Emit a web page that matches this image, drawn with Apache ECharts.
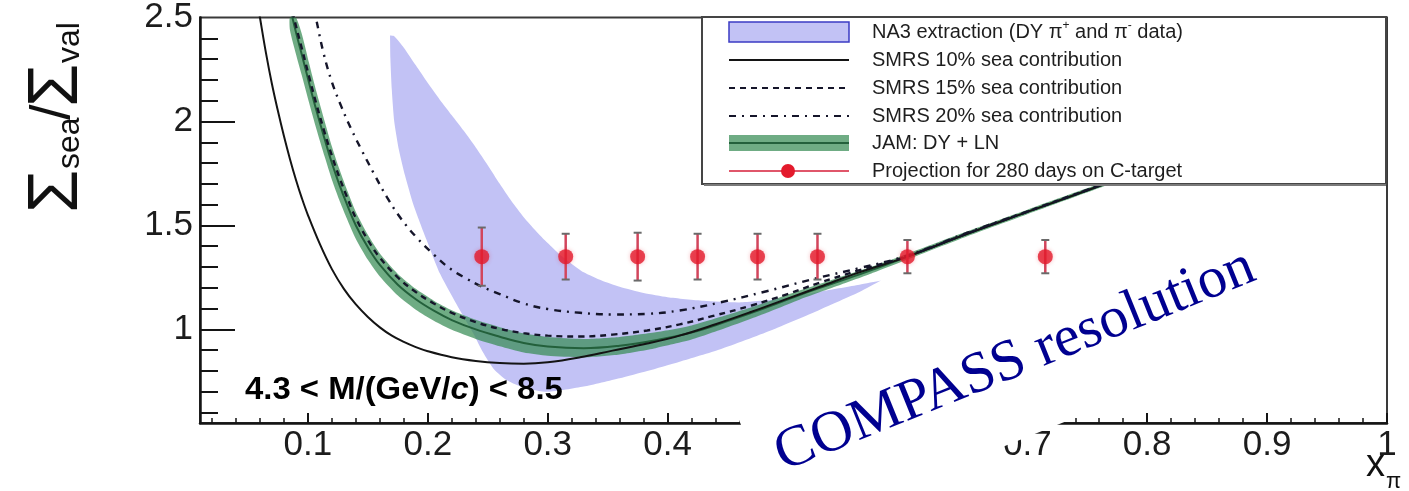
<!DOCTYPE html>
<html>
<head>
<meta charset="utf-8">
<title>Sea / valence ratio of the pion</title>
<script src="https://cdn.jsdelivr.net/npm/echarts@6.0.0/dist/echarts.min.js"></script>
<style>
html, body { margin: 0; padding: 0; background: #ffffff; }
#chart { width: 1409px; height: 491px; }
</style>
</head>
<body>
<div id="chart"></div>
<script>
// ---------------- axis ticks ----------------
const xTickValues = [0.1, 0.2, 0.3, 0.4, 0.5, 0.6, 0.7, 0.8, 0.9, 1];
const xTickLabels = ['0.1', '0.2', '0.3', '0.4', '0.5', '0.6', '0.7', '0.8', '0.9', '1'];
const xMinorTicks = [0.02, 0.04, 0.06, 0.08, 0.12, 0.14, 0.16, 0.18, 0.22, 0.24, 0.26, 0.28,
  0.32, 0.34, 0.36, 0.38, 0.42, 0.44, 0.46, 0.48, 0.52, 0.54, 0.56, 0.58, 0.62, 0.64, 0.66, 0.68,
  0.72, 0.74, 0.76, 0.78, 0.82, 0.84, 0.86, 0.88, 0.92, 0.94, 0.96, 0.98];
const yTickValues = [1, 1.5, 2, 2.5];
const yTickLabels = ['1', '1.5', '2', '2.5'];
const yMajorTicks = [1, 1.5, 2];
const yMinorTicks = [0.6, 0.7, 0.8, 0.9, 1.1, 1.2, 1.3, 1.4, 1.6, 1.7, 1.8, 1.9, 2.1, 2.2, 2.3, 2.4];

// ---------------- NA3 extraction band (outer edge and inner edge, tip to tip) ----------------
const na3Outer = [[0.1685, 2.413], [0.172, 2.41], [0.18, 2.355], [0.19, 2.27], [0.20, 2.185],
  [0.21, 2.105], [0.22, 2.03], [0.23, 1.955], [0.24, 1.875], [0.25, 1.79], [0.26, 1.70],
  [0.27, 1.615], [0.28, 1.54], [0.29, 1.475], [0.30, 1.415], [0.31, 1.36], [0.32, 1.315],
  [0.33, 1.275], [0.345, 1.235], [0.36, 1.205], [0.38, 1.175], [0.40, 1.155], [0.43, 1.138],
  [0.46, 1.13], [0.49, 1.145], [0.53, 1.185], [0.56, 1.215], [0.578, 1.235]];
const na3Inner = [[0.1685, 2.413], [0.1688, 2.30], [0.170, 2.15], [0.172, 2.00], [0.176, 1.86],
  [0.181, 1.74], [0.188, 1.60], [0.199, 1.43], [0.21, 1.27], [0.227, 1.09], [0.238, 0.98],
  [0.246, 0.89], [0.255, 0.81], [0.266, 0.755], [0.28, 0.72], [0.30, 0.70], [0.33, 0.725],
  [0.36, 0.765], [0.383, 0.80], [0.41, 0.845], [0.444, 0.905], [0.486, 0.995], [0.527, 1.095],
  [0.56, 1.18], [0.578, 1.235]];

// ---------------- JAM (DY + LN): central value and band ----------------
const jamX  = [0.085, 0.09, 0.095, 0.101, 0.107, 0.114, 0.12, 0.126, 0.132, 0.14, 0.15, 0.16, 0.175,
  0.19, 0.205, 0.22, 0.24, 0.26, 0.28, 0.30, 0.33, 0.36, 0.39, 0.42, 0.45, 0.48, 0.51, 0.54, 0.57,
  0.60, 0.65, 0.70, 0.76, 0.82];
const jamMid = [2.55, 2.43, 2.32, 2.185, 2.055, 1.915, 1.80, 1.70, 1.61, 1.50, 1.395, 1.31, 1.215,
  1.145, 1.09, 1.045, 1.00, 0.965, 0.935, 0.918, 0.910, 0.922, 0.948, 0.985, 1.04, 1.10, 1.165,
  1.225, 1.285, 1.35, 1.46, 1.565, 1.69, 1.82];
const jamLo = [2.44, 2.325, 2.22, 2.09, 1.965, 1.83, 1.72, 1.625, 1.54, 1.435, 1.335, 1.255, 1.163,
  1.095, 1.042, 0.998, 0.954, 0.919, 0.889, 0.873, 0.866, 0.880, 0.910, 0.951, 1.01, 1.074, 1.143,
  1.206, 1.269, 1.336, 1.448, 1.554, 1.68, 1.81];
const jamHi = [2.66, 2.535, 2.42, 2.28, 2.145, 2.00, 1.88, 1.775, 1.68, 1.565, 1.455, 1.365, 1.267,
  1.195, 1.138, 1.092, 1.046, 1.011, 0.981, 0.963, 0.954, 0.964, 0.986, 1.019, 1.07, 1.126, 1.187,
  1.244, 1.301, 1.364, 1.472, 1.576, 1.70, 1.83];

// ---------------- SMRS curves ----------------
const smrs10 = [[0.058, 2.57], [0.06, 2.50], [0.065, 2.33], [0.07, 2.18], [0.075, 2.05], [0.08, 1.93],
  [0.085, 1.82], [0.09, 1.72], [0.095, 1.63], [0.10, 1.55], [0.11, 1.41], [0.12, 1.29], [0.13, 1.195],
  [0.14, 1.12], [0.15, 1.06], [0.16, 1.01], [0.17, 0.97], [0.18, 0.94], [0.19, 0.915], [0.20, 0.895],
  [0.22, 0.866], [0.24, 0.848], [0.26, 0.838], [0.28, 0.835], [0.30, 0.842], [0.327, 0.866],
  [0.354, 0.898], [0.383, 0.932], [0.41, 0.97], [0.44, 1.025], [0.47, 1.085], [0.50, 1.148],
  [0.527, 1.205], [0.56, 1.275], [0.60, 1.35], [0.65, 1.46], [0.70, 1.565], [0.76, 1.69], [0.82, 1.82]];
const smrs15 = [[0.085, 2.58], [0.09, 2.46], [0.095, 2.35], [0.101, 2.215], [0.107, 2.085],
  [0.114, 1.945], [0.12, 1.835], [0.126, 1.735], [0.132, 1.645], [0.14, 1.535], [0.15, 1.43],
  [0.16, 1.345], [0.175, 1.25], [0.19, 1.18], [0.205, 1.125], [0.22, 1.08], [0.24, 1.035],
  [0.26, 1.003], [0.28, 0.982], [0.30, 0.970], [0.327, 0.966], [0.354, 0.975], [0.383, 0.995],
  [0.41, 1.024], [0.438, 1.065], [0.47, 1.115], [0.50, 1.17], [0.527, 1.225], [0.56, 1.285],
  [0.60, 1.352], [0.65, 1.462], [0.70, 1.567], [0.76, 1.692], [0.82, 1.822]];
const smrs20 = [[0.104, 2.58], [0.107, 2.49], [0.113, 2.33], [0.12, 2.19], [0.128, 2.07],
  [0.136, 1.965], [0.145, 1.86], [0.155, 1.75], [0.166, 1.635], [0.178, 1.53], [0.191, 1.44],
  [0.205, 1.36], [0.218, 1.295], [0.232, 1.245], [0.2435, 1.21], [0.26, 1.17], [0.28, 1.125],
  [0.30, 1.098], [0.327, 1.08], [0.354, 1.072], [0.383, 1.075], [0.41, 1.091], [0.444, 1.13],
  [0.48, 1.18], [0.527, 1.25], [0.56, 1.295], [0.60, 1.355], [0.65, 1.465], [0.70, 1.567],
  [0.76, 1.692], [0.82, 1.822]];

// ---------------- projection for 280 days on C-target ----------------
const projX   = [0.245, 0.315, 0.375, 0.425, 0.475, 0.525, 0.60, 0.715];
const projY   = [1.35, 1.35, 1.35, 1.35, 1.35, 1.35, 1.35, 1.35];
const projErr = [0.14, 0.11, 0.115, 0.11, 0.11, 0.11, 0.08, 0.08];

// ---------------- style ----------------
const SANS = '"Liberation Sans", Arial, Helvetica, sans-serif';
const SERIF = '"Liberation Serif", "Times New Roman", serif';
const INK = '#141414';
const NA3_FILL = '#c2c2f5';
const JAM_FILL = 'rgba(55,140,85,0.72)';
const JAM_LINE = '#23603b';
const PROJ_RED = '#e31a2c';

function labelFor(values, labels) {
  return function (v) {
    for (let i = 0; i < values.length; i++) {
      if (Math.abs(values[i] - v) < 1e-6) return labels[i];
    }
    return '';
  };
}

function bandRenderer(upper, lower, fill) {
  return function (params, api) {
    const pts = upper.map(function (p) { return api.coord(p); })
      .concat(lower.slice().reverse().map(function (p) { return api.coord(p); }));
    return {
      type: 'polygon',
      shape: { points: echarts.graphic.clipPointsByRect(pts, params.coordSys), smooth: 0.2 },
      style: { fill: fill, stroke: 'none' }
    };
  };
}

const jamUpper = jamX.map(function (x, i) { return [x, jamHi[i]]; });
const jamLower = jamX.map(function (x, i) { return [x, jamLo[i]]; });
const jamCentral = jamX.map(function (x, i) { return [x, jamMid[i]]; });
const projPoints = projX.map(function (x, i) { return [x, projY[i]]; });
const projBars = projX.map(function (x, i) { return [x, projY[i], projErr[i]]; });

const chart = echarts.init(document.getElementById('chart'), null, { renderer: 'canvas' });

const legendRows = [32, 60, 88, 116, 143, 171];
const legendTextX = 872;
const iconL = 729, iconR = 849;

function legendText(y, text, rich) {
  return {
    type: 'text', z: 120, x: legendTextX, y: y,
    style: {
      text: text, rich: rich, fontFamily: SANS, fontSize: 20, fill: '#1e1e1e',
      align: 'left', verticalAlign: 'middle'
    }
  };
}

function titlePiece(x, y, text, size) {
  return {
    type: 'text', z: 110, x: x, y: y,
    style: { text: text, fontFamily: SANS, fontSize: size, fill: '#111', align: 'left', verticalAlign: 'middle' }
  };
}

const option = {
  animation: false,
  backgroundColor: '#ffffff',
  grid: {
    left: 200, top: 17, width: 1187, height: 406,
    show: true, borderColor: '#3a3a3a', borderWidth: 2, backgroundColor: 'transparent'
  },
  xAxis: [{
    type: 'value', min: 0.01, max: 1,
    axisLine: { show: true, onZero: false, lineStyle: { color: INK, width: 2.5 } },
    axisTick: { show: true, inside: true, length: 10, customValues: xTickValues, lineStyle: { color: INK, width: 2 } },
    axisLabel: {
      show: true, customValues: xTickValues, formatter: labelFor(xTickValues, xTickLabels),
      fontFamily: SANS, fontSize: 35, color: '#1c1c1c', margin: 5
    },
    splitLine: { show: false }
  }, {
    type: 'value', min: 0.01, max: 1, position: 'bottom',
    axisLine: { show: false },
    axisTick: { show: true, inside: true, length: 5, customValues: xMinorTicks, lineStyle: { color: INK, width: 1.5 } },
    axisLabel: { show: false },
    splitLine: { show: false }
  }],
  yAxis: [{
    type: 'value', min: 0.55, max: 2.5,
    axisLine: { show: true, onZero: false, lineStyle: { color: INK, width: 2.5 } },
    axisTick: { show: true, inside: true, length: 35, customValues: yMajorTicks, lineStyle: { color: INK, width: 2 } },
    axisLabel: {
      show: true, customValues: yTickValues, formatter: labelFor(yTickValues, yTickLabels),
      fontFamily: SANS, fontSize: 35, color: '#1c1c1c', margin: 7, padding: [6, 0, 0, 0]
    },
    splitLine: { show: false }
  }, {
    type: 'value', min: 0.55, max: 2.5, position: 'left',
    axisLine: { show: false },
    axisTick: { show: true, inside: true, length: 18, customValues: yMinorTicks, lineStyle: { color: INK, width: 2 } },
    axisLabel: { show: false },
    splitLine: { show: false }
  }],
  series: [
    {
      name: 'NA3 extraction (DY π+ and π- data)', type: 'custom', z: 1, clip: true,
      renderItem: bandRenderer(na3Outer, na3Inner, NA3_FILL),
      data: [na3Outer[0]]
    },
    {
      name: 'JAM: DY + LN', type: 'custom', z: 2, clip: true,
      renderItem: bandRenderer(jamUpper, jamLower, JAM_FILL),
      data: [jamUpper[0]]
    },
    {
      name: 'JAM: DY + LN central', type: 'line', z: 3, data: jamCentral, smooth: 0.4,
      showSymbol: false, lineStyle: { color: JAM_LINE, width: 2 }
    },
    {
      name: 'SMRS 10% sea contribution', type: 'line', z: 4, data: smrs10, smooth: 0.4,
      showSymbol: false, lineStyle: { color: INK, width: 2 }
    },
    {
      name: 'SMRS 15% sea contribution', type: 'line', z: 4, data: smrs15, smooth: 0.4,
      showSymbol: false, lineStyle: { color: '#15152a', width: 2.4, type: [6, 5] }
    },
    {
      name: 'SMRS 20% sea contribution', type: 'line', z: 4, data: smrs20, smooth: 0.4,
      showSymbol: false, lineStyle: { color: '#15152a', width: 2.4, type: [7, 6, 2, 6] }
    },
    {
      name: 'Projection error', type: 'custom', z: 5,
      renderItem: function (params, api) {
        const x = api.value(0), y = api.value(1), e = api.value(2);
        const top = api.coord([x, y + e]);
        const bot = api.coord([x, y - e]);
        return {
          type: 'group',
          children: [
            { type: 'line', shape: { x1: top[0], y1: top[1], x2: bot[0], y2: bot[1] },
              style: { stroke: '#d2455c', lineWidth: 2.5 } },
            { type: 'line', shape: { x1: top[0] - 4, y1: top[1], x2: top[0] + 4, y2: top[1] },
              style: { stroke: '#6a6a6a', lineWidth: 2 } },
            { type: 'line', shape: { x1: bot[0] - 4, y1: bot[1], x2: bot[0] + 4, y2: bot[1] },
              style: { stroke: '#6a6a6a', lineWidth: 2 } }
          ]
        };
      },
      data: projBars
    },
    {
      name: 'Projection for 280 days on C-target', type: 'scatter', z: 6, data: projPoints,
      symbol: 'circle', symbolSize: 15,
      itemStyle: { color: PROJ_RED, shadowColor: 'rgba(227,26,44,0.35)', shadowBlur: 4 }
    }
  ],
  graphic: [
    // y-axis title: Sigma_sea / Sigma_val, reading upward
    {
      type: 'group', x: 0, y: 213, rotation: Math.PI / 2, z: 110,
      children: [
        titlePiece(0, 58, 'Σ', 70),
        titlePiece(44, 70, 'sea', 32),
        titlePiece(93, 54, '/', 56),
        titlePiece(106, 58, 'Σ', 70),
        titlePiece(150, 70, 'val', 32)
      ]
    },
    // x-axis title
    { type: 'text', z: 110, x: 1366, y: 466, style: { text: 'x', fontFamily: SANS, fontSize: 38, fill: '#111', align: 'left', verticalAlign: 'middle' } },
    { type: 'text', z: 110, x: 1386, y: 482, style: { text: 'π', fontFamily: SANS, fontSize: 22, fill: '#111', align: 'left', verticalAlign: 'middle' } },
    // mass window
    {
      type: 'text', z: 110, x: 245, y: 390, scaleX: 1.06,
      style: {
        text: '{a|4.3 < M/(GeV/}{i|c}{a|) < 8.5}',
        rich: {
          a: { fontFamily: SANS, fontSize: 31, fontWeight: 'bold', color: '#111' },
          i: { fontFamily: SANS, fontSize: 31, fontWeight: 'bold', fontStyle: 'italic', color: '#111' }
        },
        align: 'left', verticalAlign: 'middle'
      }
    },
    // legend box
    { type: 'rect', z: 100, shape: { x: 702, y: 17, width: 684, height: 167 },
      style: { fill: '#ffffff', stroke: '#454545', lineWidth: 2 } },
    { type: 'line', z: 101, shape: { x1: 704, y1: 185, x2: 1386, y2: 185 },
      style: { stroke: '#7a7a7a', lineWidth: 2 } },
    { type: 'rect', z: 101, shape: { x: iconL, y: 22, width: iconR - iconL, height: 20 },
      style: { fill: NA3_FILL, stroke: '#3b3bc4', lineWidth: 1.5 } },
    { type: 'line', z: 101, shape: { x1: iconL, y1: legendRows[1], x2: iconR, y2: legendRows[1] },
      style: { stroke: INK, lineWidth: 2 } },
    { type: 'line', z: 101, shape: { x1: iconL, y1: legendRows[2], x2: iconR, y2: legendRows[2] },
      style: { stroke: '#15152a', lineWidth: 2.2, lineDash: [6, 5] } },
    { type: 'line', z: 101, shape: { x1: iconL, y1: legendRows[3], x2: iconR, y2: legendRows[3] },
      style: { stroke: '#15152a', lineWidth: 2.2, lineDash: [7, 6, 2, 6] } },
    { type: 'rect', z: 101, shape: { x: iconL, y: 135, width: iconR - iconL, height: 16 },
      style: { fill: JAM_FILL } },
    { type: 'line', z: 102, shape: { x1: iconL, y1: legendRows[4], x2: iconR, y2: legendRows[4] },
      style: { stroke: JAM_LINE, lineWidth: 2 } },
    { type: 'line', z: 101, shape: { x1: iconL, y1: legendRows[5], x2: iconR, y2: legendRows[5] },
      style: { stroke: '#e0566a', lineWidth: 2 } },
    { type: 'circle', z: 102, shape: { cx: 788, cy: legendRows[5], r: 7 },
      style: { fill: PROJ_RED } },
    legendText(legendRows[0], '{t|NA3 extraction (DY π}{s|+}{t| and π}{s|-}{t| data)}', {
      t: { fontFamily: SANS, fontSize: 20, color: '#1e1e1e', lineHeight: 24 },
      s: { fontFamily: SANS, fontSize: 12, color: '#1e1e1e', lineHeight: 12, verticalAlign: 'top' }
    }),
    legendText(legendRows[1], 'SMRS 10% sea contribution'),
    legendText(legendRows[2], 'SMRS 15% sea contribution'),
    legendText(legendRows[3], 'SMRS 20% sea contribution'),
    legendText(legendRows[4], 'JAM: DY + LN'),
    legendText(legendRows[5], 'Projection for 280 days on C-target'),
    // resolution stamp with its white backing
    {
      type: 'group', x: 1015, y: 361, rotation: 22 * Math.PI / 180, z: 130,
      children: [
        { type: 'rect', z: 130, shape: { x: -278, y: -60, width: 556, height: 135, r: 10 },
          style: { fill: '#ffffff' } },
        { type: 'text', z: 131, x: 0, y: 0,
          style: { text: 'COMPASS resolution', fontFamily: SERIF, fontSize: 58, fill: '#000090',
                   align: 'center', verticalAlign: 'middle' } }
      ]
    }
  ]
};

chart.setOption(option);
</script>
</body>
</html>
